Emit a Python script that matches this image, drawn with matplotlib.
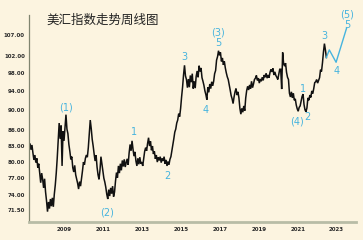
import numpy as np
import matplotlib
matplotlib.use("Agg")
import matplotlib.pyplot as plt
from matplotlib.ticker import FixedLocator, NullLocator

plt.rcParams['font.family'] = ['Noto Sans CJK SC', 'DejaVu Sans']

TITLE = "美汇指数走势周线图"
START_YEAR = 2007.17
STEP_YEAR = 0.05

# Dollar index (one value every ~0.05 year)
dxy = [
    82.6, 83.4, 82.2, 83.1, 81.6, 80.3, 81.2, 79.8, 80.6, 78.9,
    79.6, 77.8, 76.2, 77.9, 76.8, 75.3, 76.9, 74.6, 73.1, 71.3,
    72.9, 71.8, 73.4, 72.2, 73.6, 72.1, 74.2, 75.8, 77.9, 80.6,
    83.8, 87.4, 84.3, 86.9, 79.2, 85.8, 83.9, 86.4, 89.1, 86.2,
    85.3, 83.2, 81.9, 80.4, 80.9, 78.9, 78.1, 79.3, 77.6, 76.8,
    76.1, 75.1, 76.4, 75.6, 76.9, 78.3, 79.9, 79.4, 80.6, 81.2,
    80.8, 82.6, 85.4, 88.0, 86.3, 84.2, 82.9, 81.4, 80.1, 81.2,
    79.0, 77.6, 76.8, 78.4, 80.9, 79.6, 78.2, 77.0, 76.3, 75.4,
    74.2, 73.4, 75.0, 73.9, 75.3, 74.3, 75.6, 73.8, 74.6, 76.5,
    78.0, 77.1, 79.2, 77.9, 79.6, 78.4, 80.2, 79.1, 80.4, 79.0,
    79.8, 80.5, 79.4, 81.6, 83.2, 82.0, 83.9, 82.3, 81.0, 81.8,
    80.1, 79.2, 80.6, 79.5, 80.8, 79.6, 79.9, 79.2, 80.6, 81.9,
    82.6, 82.0, 83.4, 84.5, 82.9, 83.8, 82.1, 82.9, 81.4, 81.9,
    80.5, 81.2, 79.9, 80.8, 80.2, 80.9, 79.8, 80.6, 80.1, 80.9,
    79.6, 80.3, 79.2, 80.0, 79.4, 80.4, 80.9, 82.0, 83.1, 84.3,
    85.6, 86.2, 87.4, 88.0, 89.3, 88.7, 90.4, 92.8, 94.9, 97.6,
    99.8, 97.4, 96.6, 94.8, 96.7, 94.9, 97.5, 96.0, 97.9, 94.6,
    96.2, 94.7, 97.3, 98.5, 97.1, 99.7, 98.4, 99.2, 97.0, 96.2,
    95.3, 94.1, 93.3, 92.2, 94.9, 93.8, 95.6, 94.6, 96.1, 95.2,
    96.2, 97.9, 98.6, 101.0, 101.8, 103.2, 102.1, 102.8, 100.7, 101.5,
    99.9, 100.7, 99.2, 98.1, 97.2, 96.6, 95.5, 94.3, 93.1, 92.4,
    91.4, 92.8, 93.9, 94.6, 93.2, 93.9, 92.6, 90.4, 89.2, 90.4,
    89.6, 90.9, 89.9, 92.6, 94.2, 95.1, 94.3, 95.4, 94.6, 96.2,
    94.8, 95.6, 96.6, 96.9, 97.5, 96.4, 96.9, 95.8, 96.7, 96.2,
    97.1, 96.4, 97.6, 97.1, 98.0, 96.9, 97.6, 97.0, 98.2, 98.9,
    98.3, 99.1, 97.6, 98.3, 97.5, 97.1, 96.6, 97.8, 98.9, 98.9,
    94.5, 102.8, 100.2, 99.6, 100.3, 98.2, 97.1, 96.6, 93.6, 92.8,
    93.9, 92.6, 93.6, 92.1, 92.4, 91.1, 90.3, 89.8, 90.6, 90.9,
    91.9, 92.9, 93.4, 91.2, 90.1, 89.7, 90.5, 92.6, 92.1, 93.2,
    92.7, 94.1, 93.5, 94.6, 95.9, 96.1, 96.6, 95.8, 96.4, 97.0,
    98.8, 98.4, 100.4, 102.9, 104.9, 103.4, 101.6,
]

# Projected wave path (blue)
proj_years = [2022.47, 2022.62, 2022.97, 2023.51]
proj_values = [101.6, 103.4, 100.5, 108.7]

# Wave labels: (text, year, value)
wave_labels = [
    ("(1)", 2009.05, 90.6),
    ("(2)", 2011.2, 71.2),
    ("1", 2012.55, 85.6),
    ("2", 2014.3, 77.4),
    ("3", 2015.15, 101.8),
    ("4", 2016.25, 90.0),
    ("(3)", 2016.9, 107.6),
    ("5", 2016.9, 105.0),
    ("1", 2021.25, 94.5),
    ("(4)", 2020.95, 87.7),
    ("2", 2021.49, 88.6),
    ("3", 2022.38, 106.8),
    ("4", 2023.0, 98.4),
    ("(5)", 2023.54, 112.2),
    ("5", 2023.54, 109.6),
]

yticks = [107, 102, 98, 94, 90, 86, 83, 80, 77, 74, 71.5]
xticks = [2009, 2011, 2013, 2015, 2017, 2019, 2021, 2023]

BG = '#fcf4e0'
BLUE = '#46b4de'

years = START_YEAR + STEP_YEAR * np.arange(len(dxy))

fig = plt.figure(figsize=(3.63, 2.40), dpi=100, facecolor=BG)
ax = fig.add_axes([0.080, 0.077, 0.901, 0.860], facecolor=BG)

ax.plot(years, dxy, color='#111111', lw=1.1, solid_joinstyle='miter')
ax.plot(proj_years, proj_values, color=BLUE, lw=1.0)

ax.set_yscale('log')
ax.set_xlim(2007.17, 2024.0)
ax.set_ylim(69.7, 112.0)
ax.yaxis.set_major_locator(FixedLocator(yticks))
ax.yaxis.set_minor_locator(NullLocator())
ax.set_yticklabels([f"{v:.2f}" for v in yticks])
ax.set_xticks(xticks)
ax.set_xticklabels([str(x) for x in xticks])
ax.tick_params(axis='both', length=0, labelsize=4.0, colors='#2a2a2a')
ax.tick_params(axis='y', pad=3)
ax.tick_params(axis='x', pad=4)
for lab in ax.get_xticklabels() + ax.get_yticklabels():
    lab.set_fontweight('bold')
    lab.set_family('DejaVu Sans')

for s in ('top', 'right'):
    ax.spines[s].set_visible(False)
ax.spines['left'].set_color('#80846f')
ax.spines['left'].set_linewidth(0.9)
ax.spines['bottom'].set_color('#b8bca6')
ax.spines['bottom'].set_linewidth(2.0)

for txt, xx, yy in wave_labels:
    ax.text(xx, yy, txt, color=BLUE, fontsize=7, ha='center', va='center',
            family='DejaVu Sans', clip_on=False)

fig.text(0.284, 0.915, TITLE, fontsize=9, ha='center', va='center',
         color='#222222')

fig.savefig('out.png', dpi=100, facecolor=BG)
